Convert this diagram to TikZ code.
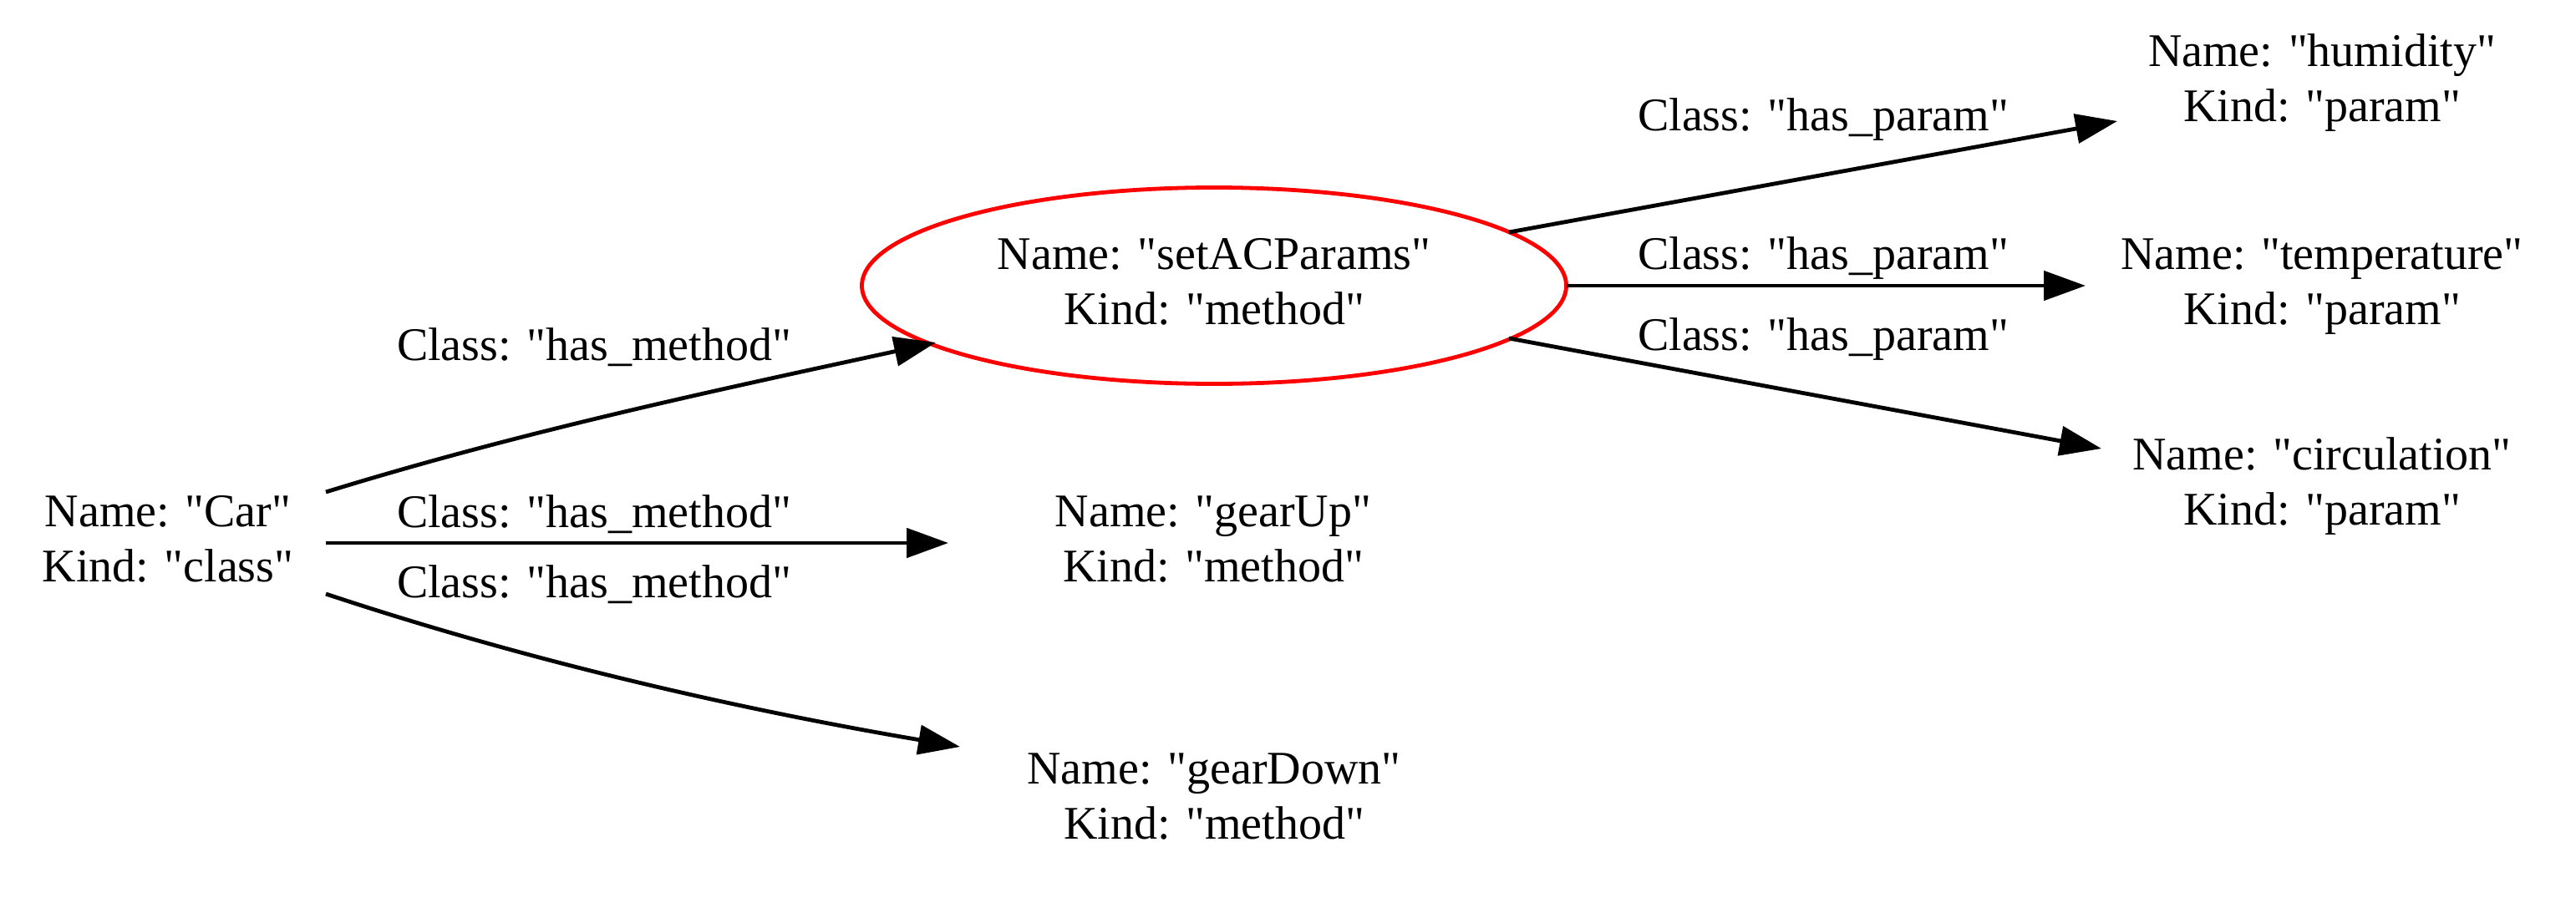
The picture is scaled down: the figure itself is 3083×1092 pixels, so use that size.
\documentclass[tikz,border=0pt]{standalone}
\usepackage{fontspec}
\setmainfont{Liberation Serif}[Ligatures=TeXOff]
\usetikzlibrary{arrows.meta,shapes.geometric,calc}
\newcommand\twolines[2]{\begin{tabular}{@{}c@{}}#1\\#2\end{tabular}}
\tikzset{
  every node/.style={font=\fontsize{14pt}{16.5pt}\selectfont, inner sep=0pt},
  gnode/.style={draw=none},
  methodnode/.style={ellipse, draw=red, line width=1.2pt, minimum width=210.75pt, minimum height=58.75pt},
  elabel/.style={anchor=base},
  conn/.style={draw=black, line width=1.2pt, -{Triangle[length=12.5pt,width=8.75pt]}},
}
\begin{document}
\begin{tikzpicture}[x=0.25pt, y=-0.25pt]
\useasboundingbox (0,0) rectangle (3083,1092);
% nodes
\node[gnode] (car) at (201,650) {\twolines{Name: "Car"}{Kind: "class"}};
\node[methodnode] (setac) at (1453,342) {\twolines{Name: "setACParams"}{Kind: "method"}};
\node[gnode] (gearup) at (1452,650) {\twolines{Name: "gearUp"}{Kind: "method"}};
\node[gnode] (geardown) at (1453,958) {\twolines{Name: "gearDown"}{Kind: "method"}};
\node[gnode] (humidity) at (2779,99) {\twolines{Name: "humidity"}{Kind: "param"}};
\node[gnode] (temperature) at (2779,342) {\twolines{Name: "temperature"}{Kind: "param"}};
\node[gnode] (circulation) at (2779,582) {\twolines{Name: "circulation"}{Kind: "param"}};
% edge labels
\node[elabel] (l1) at (711,431) {Class: "has\_method"};
\node[elabel] (l2) at (711,631) {Class: "has\_method"};
\node[elabel] (l3) at (711,715) {Class: "has\_method"};
\node[elabel] (l4) at (2182,156) {Class: "has\_param"};
\node[elabel] (l5) at (2182,322) {Class: "has\_param"};
\node[elabel] (l6) at (2182,419) {Class: "has\_param"};
% connectors
\draw[conn] ($(car)+(189,-61)$) .. controls +(243,-75) and +(-243,53) .. ($(setac)+(-333,68)$);
\draw[conn] ($(car)+(189,0)$) -- ($(gearup)+(-317,0)$);
\draw[conn] ($(car)+(189,61)$) .. controls +(253,84) and +(-253,-43) .. ($(geardown)+(-304,-64)$);
\draw[conn] ($(setac)+(353,-64)$) -- ($(humidity)+(-245,46)$);
\draw[conn] ($(setac)+(422,0)$) -- ($(temperature)+(-283,0)$);
\draw[conn] ($(setac)+(353,63)$) -- ($(circulation)+(-264,-45)$);
\end{tikzpicture}
\end{document}
